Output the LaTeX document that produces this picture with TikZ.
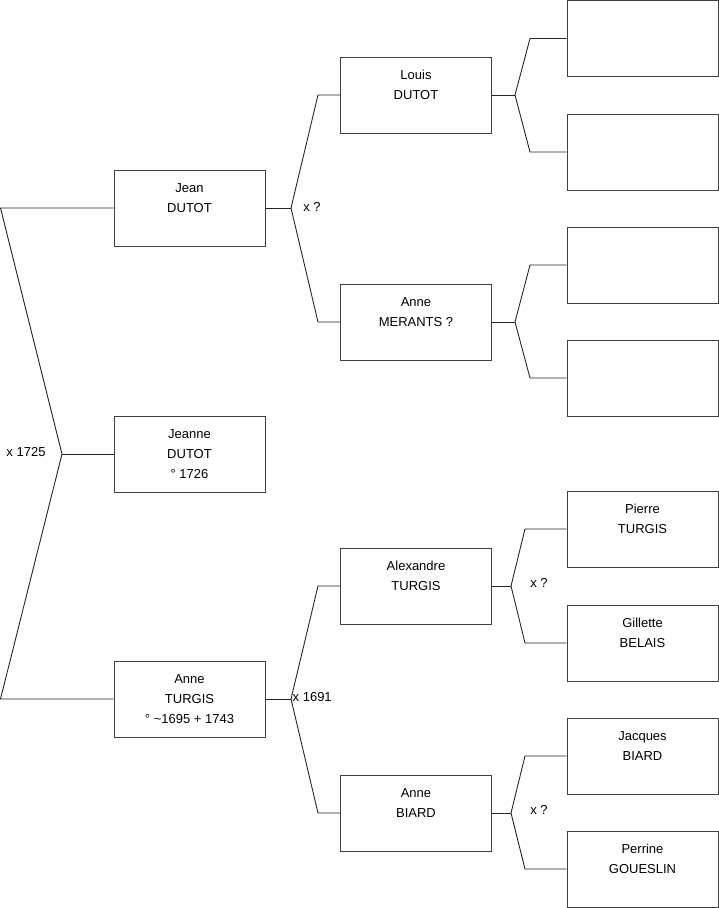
\documentclass[tikz,border=0pt]{standalone}
\usepackage{fontspec}
\setmainfont{Liberation Sans}
\begin{document}
\begin{tikzpicture}[x=1pt,y=-1pt,
  person/.style={draw=black!75, line width=1pt, minimum width=151pt, minimum height=76pt, inner sep=0pt, align=center, font=\fontsize{13}{20}\selectfont},
  link/.style={draw=black!85, line width=0.9pt},
  lbl/.style={inner sep=0pt, font=\fontsize{13}{16}\selectfont}]
\useasboundingbox (0,0) rectangle (719,908);
% column 1
\node[person] (jean) at (189.5,208) {\strut Jean\\\strut DUTOT\\\strut};
\node[person] (jeanne) at (189.5,454) {\strut Jeanne\\\strut DUTOT\\\strut ° 1726};
\node[person] (anneT) at (189.5,699) {\strut Anne\\\strut TURGIS\\\strut ° \textasciitilde1695 + 1743};
% column 2
\node[person] (louis) at (416,95) {\strut Louis\\\strut DUTOT\\\strut};
\node[person] (anneM) at (416,322) {\strut Anne\\\strut MERANTS ?\\\strut};
\node[person] (alex) at (416,586) {\strut Alexandre\\\strut TURGIS\\\strut};
\node[person] (anneB) at (416,813) {\strut Anne\\\strut BIARD\\\strut};
% column 3
\node[person] (g1) at (642.5,38.5) {};
\node[person] (g2) at (642.5,152) {};
\node[person] (g3) at (642.5,265) {};
\node[person] (g4) at (642.5,378) {};
\node[person] (pierre) at (642.5,529) {\strut Pierre\\\strut TURGIS\\\strut};
\node[person] (gillette) at (642.5,643) {\strut Gillette\\\strut BELAIS\\\strut};
\node[person] (jacques) at (642.5,756) {\strut Jacques\\\strut BIARD\\\strut};
\node[person] (perrine) at (642.5,869) {\strut Perrine\\\strut GOUESLIN\\\strut};
% root fork
\coordinate (r1) at (0.5,208);
\coordinate (r2) at (0.5,699);
\coordinate (rf) at (62,454);
\draw[link] (jean.west) -- (r1) -- (rf) -- (r2) -- (anneT.west);
\draw[link] (rf) -- (jeanne.west);
\node[lbl] (m1) at (26,452) {x 1725};
% Jean fork
\coordinate (fj) at (291,208);
\coordinate (fj1) at (318,95);
\coordinate (fj2) at (318,322);
\draw[link] (jean.east) -- (fj);
\draw[link] (fj) -- (fj1) -- (louis.west);
\draw[link] (fj) -- (fj2) -- (anneM.west);
\node[lbl] (m2) at (312,207) {x ?};
% Anne TURGIS fork
\coordinate (fa) at (291,699);
\coordinate (fa1) at (318,586);
\coordinate (fa2) at (318,813);
\draw[link] (anneT.east) -- (fa);
\draw[link] (fa) -- (fa1) -- (alex.west);
\draw[link] (fa) -- (fa2) -- (anneB.west);
\node[lbl, anchor=west] (m3) at (292.5,697) {x 1691};
% Louis fork
\coordinate (fl) at (515,95);
\coordinate (fl1) at (530,38.5);
\coordinate (fl2) at (530,152);
\draw[link] (louis.east) -- (fl);
\draw[link] (fl) -- (fl1) -- (g1.west);
\draw[link] (fl) -- (fl2) -- (g2.west);
% Anne MERANTS fork
\coordinate (fm) at (515,322);
\coordinate (fm1) at (530,265);
\coordinate (fm2) at (530,378);
\draw[link] (anneM.east) -- (fm);
\draw[link] (fm) -- (fm1) -- (g3.west);
\draw[link] (fm) -- (fm2) -- (g4.west);
% Alexandre fork
\coordinate (fx) at (511,586);
\coordinate (fx1) at (525,529);
\coordinate (fx2) at (525,643);
\draw[link] (alex.east) -- (fx);
\draw[link] (fx) -- (fx1) -- (pierre.west);
\draw[link] (fx) -- (fx2) -- (gillette.west);
\node[lbl] (m4) at (539,583) {x ?};
% Anne BIARD fork
\coordinate (fb) at (511,813);
\coordinate (fb1) at (525,756);
\coordinate (fb2) at (525,869);
\draw[link] (anneB.east) -- (fb);
\draw[link] (fb) -- (fb1) -- (jacques.west);
\draw[link] (fb) -- (fb2) -- (perrine.west);
\node[lbl] (m5) at (539,810) {x ?};
\end{tikzpicture}
\end{document}
